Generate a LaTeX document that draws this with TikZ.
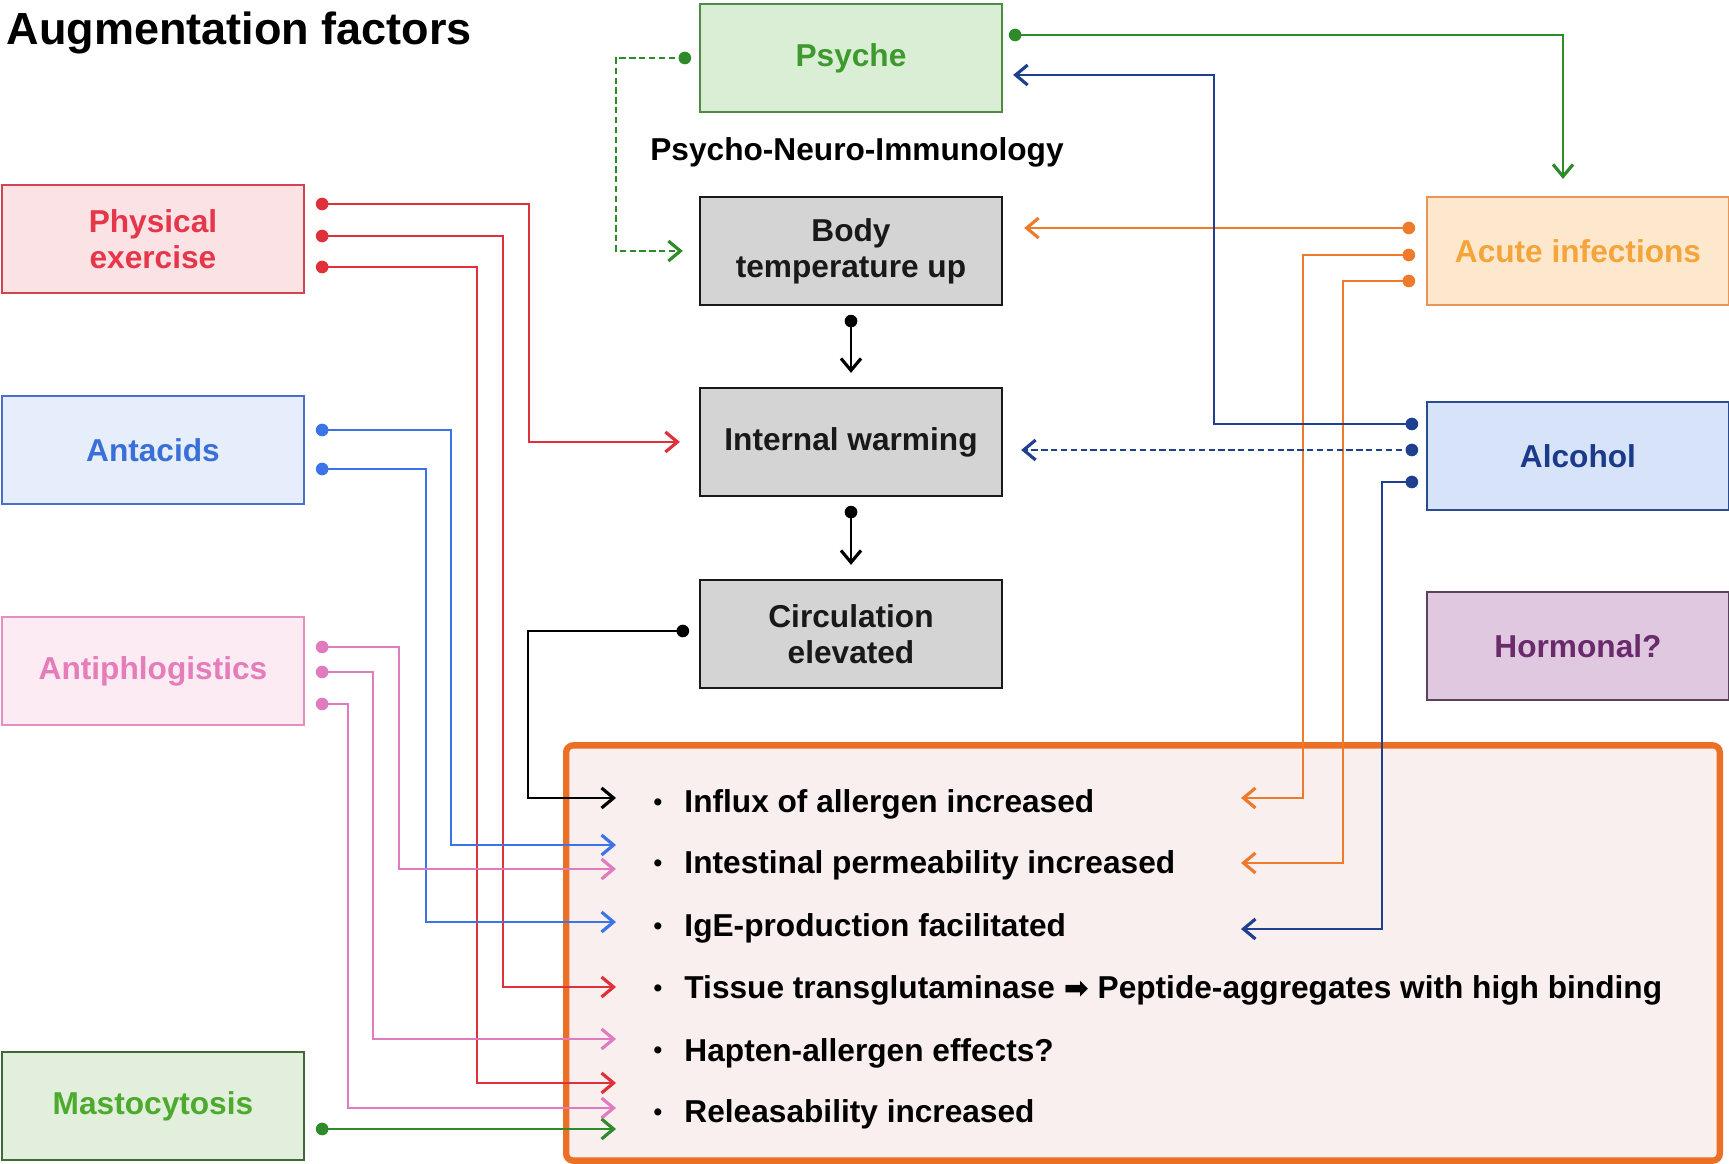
\documentclass[tikz,border=0pt]{standalone}
\usepackage{fontspec}
\setmainfont{Liberation Sans}
\newfontfamily\simbolos{DejaVu Sans}
\usepackage{tikz}
\usetikzlibrary{calc,arrows.meta}
\usepackage{xcolor}

\definecolor{rojoT}{HTML}{E5364A}\definecolor{rojoF}{HTML}{FBE2E4}\definecolor{rojoB}{HTML}{CF4550}\definecolor{rojoL}{HTML}{E0303A}
\definecolor{azulT}{HTML}{3B6FD8}\definecolor{azulF}{HTML}{E6EDFB}\definecolor{azulB}{HTML}{4A6FCB}\definecolor{azulL}{HTML}{3C73E6}
\definecolor{rosaT}{HTML}{E47DB9}\definecolor{rosaF}{HTML}{FDEBF4}\definecolor{rosaB}{HTML}{E48FC2}\definecolor{rosaL}{HTML}{E07BC0}
\definecolor{verdeT}{HTML}{4DAA2E}\definecolor{verdeF}{HTML}{E2EFDC}\definecolor{verdeB}{HTML}{3E6A36}\definecolor{verdeL}{HTML}{2E8B2A}
\definecolor{psiT}{HTML}{3E9A2E}\definecolor{psiF}{HTML}{D9EED4}\definecolor{psiB}{HTML}{4E8C44}
\definecolor{naranjaT}{HTML}{F5A43A}\definecolor{naranjaF}{HTML}{FDE8CE}\definecolor{naranjaB}{HTML}{E8955A}\definecolor{naranjaL}{HTML}{EE7A2B}
\definecolor{marinoT}{HTML}{1C3A8A}\definecolor{marinoF}{HTML}{D7E3F8}\definecolor{marinoB}{HTML}{2C4C90}\definecolor{marinoL}{HTML}{1F3F8F}
\definecolor{moradoT}{HTML}{6A2B6C}\definecolor{moradoF}{HTML}{E1C8E1}\definecolor{moradoB}{HTML}{5A425C}
\definecolor{gris}{HTML}{D4D4D4}
\definecolor{marcoN}{HTML}{EB6F24}\definecolor{fondoN}{HTML}{F9EFEE}

\begin{document}
\begin{tikzpicture}[x=0.01cm,y=-0.01cm,>={Straight Barb[length=1.2mm,width=2mm,line width=0.9pt]},
  factor/.style n args={3}{draw=#1,fill=#2,text=#3,line width=0.6pt,minimum width=3.02cm,
    minimum height=1.08cm,align=center,inner sep=2pt,font=\fontsize{9}{10.3}\selectfont\bfseries},
  proceso/.style={factor={black!90}{gris}{black!90}},
  item/.style={anchor=base west,inner sep=0pt,font=\fontsize{9}{11}\selectfont\bfseries},
  linea/.style={line width=0.6pt},
  rayas/.style={dash pattern=on 1.8pt off 1pt}]
  \useasboundingbox (0,0) rectangle (1729,1164);

  % Titulo
  \node[anchor=west,inner sep=0pt,font=\fontsize{12.8}{15}\selectfont\bfseries] (titulo) at (6,33) {Augmentation factors};

  % Factores a la izquierda
  \node[factor={rojoB}{rojoF}{rojoT}] (fis) at (153,239) {Physical\\exercise};
  \node[factor={azulB}{azulF}{azulT}] (antac) at (153,450) {Antacids};
  \node[factor={rosaB}{rosaF}{rosaT}] (antif) at (153,671) {Antiphlogistics};
  \node[factor={verdeB}{verdeF}{verdeT}] (masto) at (153,1106) {Mastocytosis};

  % Cadena central
  \node[factor={psiB}{psiF}{psiT}] (psique) at (851,58) {Psyche};
  \node[font=\fontsize{9}{11}\selectfont\bfseries] (pni) at (857,152) {Psycho-Neuro-Immunology};
  \node[proceso] (cuerpo) at (851,251) {Body\\temperature up};
  \node[proceso] (interno) at (851,442) {Internal warming};
  \node[proceso] (circ) at (851,634) {Circulation\\elevated};

  % Factores a la derecha
  \node[factor={naranjaB}{naranjaF}{naranjaT}] (aguda) at (1578,251) {Acute infections};
  \node[factor={marinoB}{marinoF}{marinoT}] (alcohol) at (1578,456) {Alcohol};
  \node[factor={moradoB}{moradoF}{moradoT}] (hormonal) at (1578,646) {Hormonal?};

  % Efectos sobre la alergia
  \node[draw=marcoN,fill=fondoN,line width=1.8pt,rounded corners=2pt,minimum width=11.53cm,
    minimum height=4.15cm,inner sep=0pt] (efectos) at (1143,953) {};
  \foreach \n/\y/\t in {i1/813/{Influx of allergen increased},
                        i2/874/{Intestinal permeability increased},
                        i3/937/{IgE-production facilitated},
                        i4/999/{Tissue transglutaminase {\simbolos\fontsize{8.5}{9}\selectfont ➡} Peptide-aggregates with high binding},
                        i5/1061/{Hapten-allergen effects?},
                        i6/1123/{Releasability increased}}
    \node[item] (\n) at (653,\y) {\raisebox{0.7pt}{\fontsize{7}{7}\selectfont\textbullet}\hspace{6.3pt}\t};

  % Puntas de llegada
  \foreach \n/\y in {e1/798,e2/845,e3/869,e4/922,e5/987,e6/1039,e7/1083,e8/1108,e9/1129}
    \coordinate (\n) at (616,\y);
  \foreach \n/\y in {d1/798,d2/863,d3/929}
    \coordinate (\n) at (1241,\y);

  % Puntos de salida
  \coordinate (f1) at ($(fis.east)+(17,-35)$);
  \coordinate (f2) at ($(fis.east)+(17,-3)$);
  \coordinate (f3) at ($(fis.east)+(17,28)$);
  \coordinate (a1) at ($(antac.east)+(17,-20)$);
  \coordinate (a2) at ($(antac.east)+(17,19)$);
  \coordinate (p1) at ($(antif.east)+(17,-24)$);
  \coordinate (p2) at ($(antif.east)+(17,1)$);
  \coordinate (p3) at ($(antif.east)+(17,33)$);
  \coordinate (m1) at ($(masto.east)+(17,23)$);
  \coordinate (ci1) at ($(circ.west)+(-16,-3)$);
  \coordinate (ps1) at ($(psique.west)+(-14,0)$);
  \coordinate (ps2) at ($(psique.east)+(12,-23)$);
  \coordinate (ag1) at ($(aguda.west)+(-17,-23)$);
  \coordinate (ag2) at ($(aguda.west)+(-17,4)$);
  \coordinate (ag3) at ($(aguda.west)+(-17,30)$);
  \coordinate (al1) at ($(alcohol.west)+(-14,-32)$);
  \coordinate (al2) at ($(alcohol.west)+(-14,-6)$);
  \coordinate (al3) at ($(alcohol.west)+(-14,26)$);
  \coordinate (cu1) at ($(cuerpo.south)+(0,15)$);
  \coordinate (in1) at ($(interno.south)+(0,15)$);

  % Conexiones desde la izquierda
  \draw[linea,rojoL,->,shorten >=1.9mm] (f1) -- ++(207,0) |- (interno.west);
  \draw[linea,rojoL,->] (f2) -- ++(181,0) |- (e5);
  \draw[linea,rojoL,->] (f3) -- ++(155,0) |- (e7);
  \draw[linea,azulL,->] (a1) -- ++(129,0) |- (e2);
  \draw[linea,azulL,->] (a2) -- ++(104,0) |- (e4);
  \draw[linea,rosaL,->] (p1) -- ++(77,0) |- (e3);
  \draw[linea,rosaL,->] (p2) -- ++(51,0) |- (e6);
  \draw[linea,rosaL,->] (p3) -- ++(26,0) |- (e8);
  \draw[linea,verdeL,->] (m1) -- (e9);

  % Cadena central
  \draw[linea,->] (ci1) -- ++(-155,0) |- (e1);
  \draw[linea,->,shorten >=1.4mm] (cu1) -- (interno.north);
  \draw[linea,->,shorten >=1.4mm] (in1) -- (circ.north);
  \draw[linea,verdeL,rayas,->,shorten >=1.6mm] (ps1) -- ++(-69,0) |- (cuerpo.west);
  \draw[linea,verdeL,->,shorten >=1.7mm] (ps2) -| ($(aguda.north)+(-15,0)$);

  % Conexiones desde la derecha
  \draw[linea,naranjaL,->,shorten >=2.1mm] (ag1) -- (cuerpo.east |- ag1);
  \draw[linea,naranjaL,->] (ag2) -- ++(-106,0) |- (d1);
  \draw[linea,naranjaL,->] (ag3) -- ++(-66,0) |- (d2);
  \draw[linea,marinoL,->,shorten >=1mm] (al1) -- ++(-198,0) |- ($(psique.east)+(0,17)$);
  \draw[linea,marinoL,rayas,->,shorten >=1.8mm] (al2) -- (interno.east |- al2);
  \draw[linea,marinoL,->] (al3) -- ++(-30,0) |- (d3);

  % Puntos
  \foreach \p/\c in {f1/rojoL,f2/rojoL,f3/rojoL,a1/azulL,a2/azulL,p1/rosaL,p2/rosaL,p3/rosaL,
                     m1/verdeL,ps1/verdeL,ps2/verdeL,ag1/naranjaL,ag2/naranjaL,ag3/naranjaL,
                     al1/marinoL,al2/marinoL,al3/marinoL,ci1/black,cu1/black,in1/black}
    \fill[\c] (\p) circle (1.8pt);
\end{tikzpicture}
\end{document}
